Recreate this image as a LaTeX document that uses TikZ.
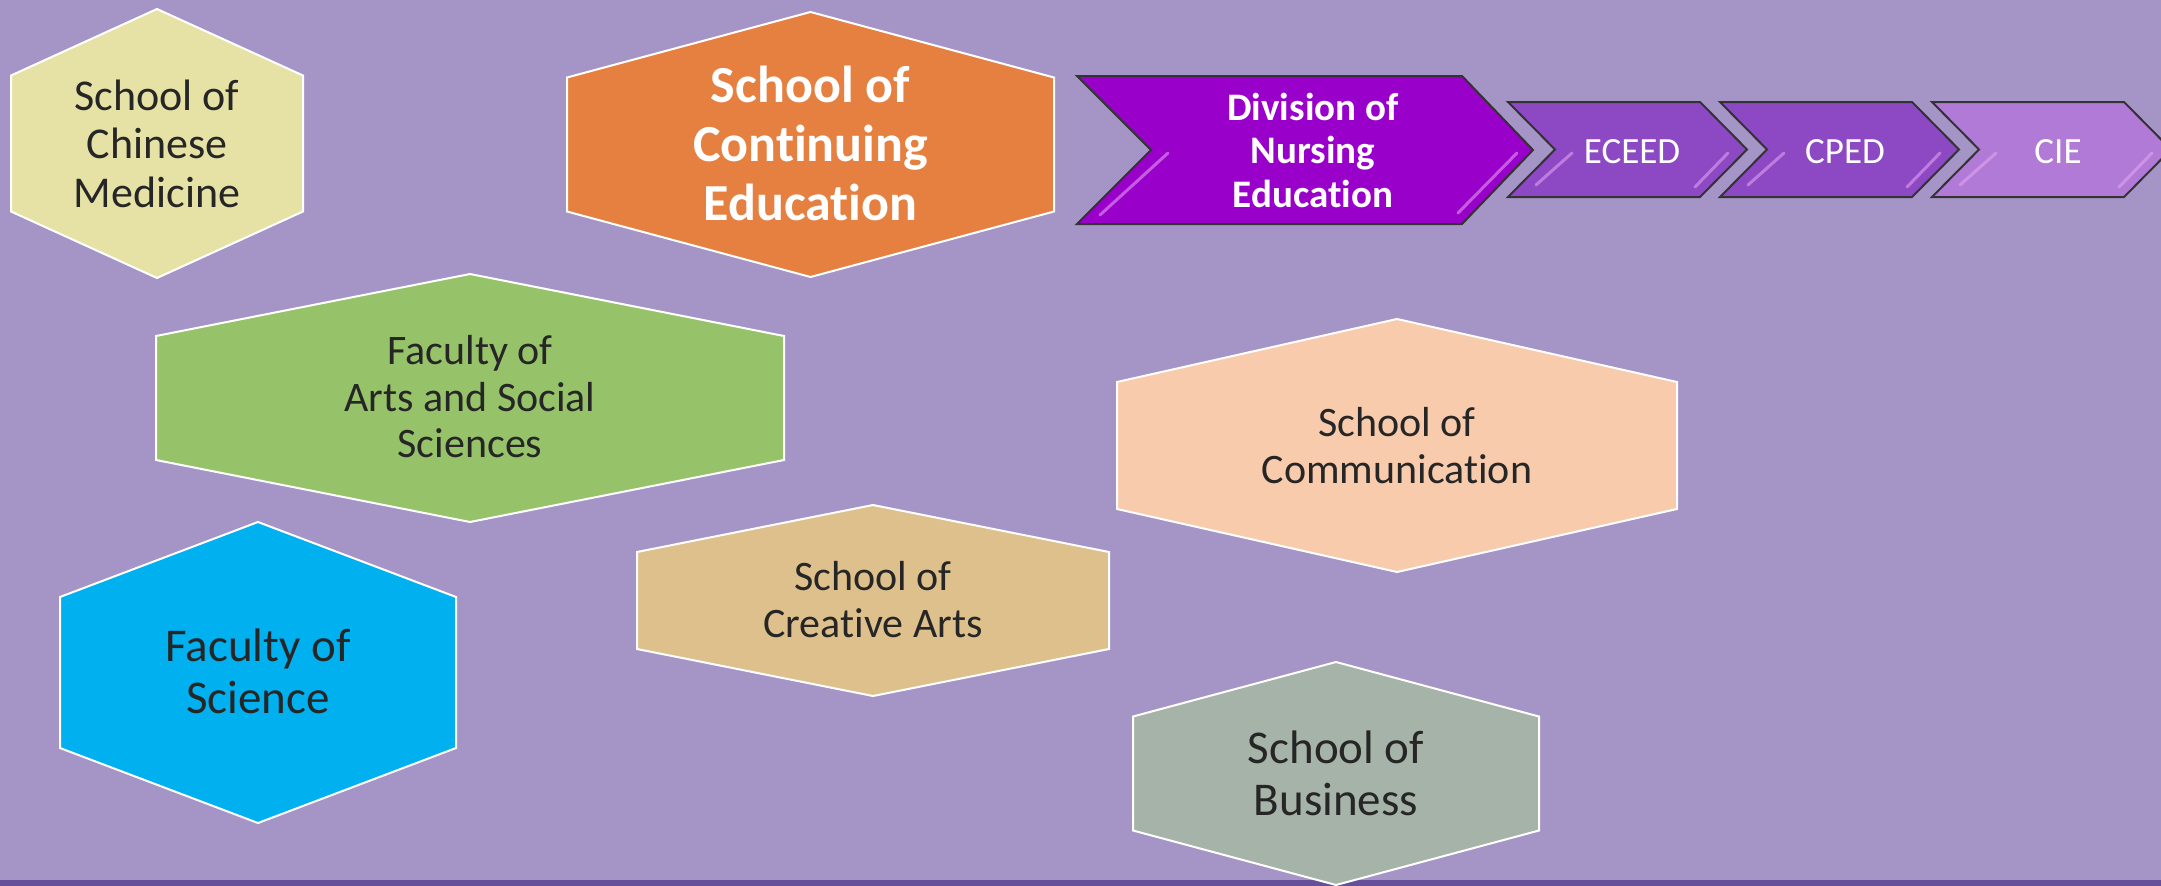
\documentclass[tikz,border=0pt]{standalone}
\usepackage{fontspec}
\setmainfont{Carlito}[Ligatures=NoCommon]
\usetikzlibrary{calc,positioning}

\definecolor{bgpurple}{HTML}{A595C6}
\definecolor{bandpurple}{HTML}{654F9B}
\definecolor{textgray}{HTML}{262626}
\definecolor{hexyellow}{HTML}{E6E2A6}
\definecolor{hexorange}{HTML}{E58041}
\definecolor{hexgreen}{HTML}{96C36A}
\definecolor{hexpeach}{HTML}{F8CBAD}
\definecolor{hexblue}{HTML}{00B0EF}
\definecolor{hextan}{HTML}{DEC08C}
\definecolor{hexsage}{HTML}{A6B3A8}
\definecolor{chevdark}{HTML}{9900CA}
\definecolor{chevmid}{HTML}{8D49C3}
\definecolor{chevlight}{HTML}{B07AD6}
\definecolor{glosspink}{HTML}{E9A6F5}

\tikzset{
    hexshape/.style={draw=white, line width=2pt, line join=miter},
    hextext/.style={text=textgray, align=center, inner sep=0pt},
    chevshape/.style={draw=black!80, line width=2pt, line join=miter},
    chevtext/.style={text=white, align=center, inner sep=0pt},
    gloss/.style={draw=glosspink, line width=3pt, line cap=round, opacity=.55}
}

% Hexagon: centre x, centre y, half width, half height, half side, colour.
\newcommand{\hexa}[6]{%
    \filldraw[hexshape, fill=#6] (#1-#3,#2-#5) -- (#1,#2-#4) -- (#1+#3,#2-#5)
        -- (#1+#3,#2+#5) -- (#1,#2+#4) -- (#1-#3,#2+#5) -- cycle;}

\begin{document}
\begin{tikzpicture}[x=1pt, y=-1pt]
    \useasboundingbox (0,0) rectangle (2161,886);
    \clip (0,0) rectangle (2161,886);

    % Draw background.
    \fill[bgpurple] (0,0) rectangle (2161,886);
    \fill[bandpurple] (0,880) rectangle (2161,886);

    % Draw hexagons.
    \hexa{157}{143.5}{146}{134.5}{68}{hexyellow}
    \hexa{810.5}{144.5}{243.5}{132.5}{67}{hexorange}
    \hexa{470}{398}{314}{124}{62}{hexgreen}
    \hexa{1397}{445.5}{280}{126.5}{63.5}{hexpeach}
    \hexa{258}{672.5}{198}{150.5}{75.5}{hexblue}
    \hexa{873}{600.5}{236}{95.5}{48.5}{hextan}
    \hexa{1336}{773.5}{203}{111.5}{57}{hexsage}

    % Label hexagons.
    \node[hextext, font=\fontsize{44}{48.5}\selectfont] (chinese) at (157,143.5) {School of\\Chinese\\Medicine};
    \node[chevtext, font=\bfseries\fontsize{52}{59}\selectfont] (contedu) at (810.5,143) {School of\\Continuing\\Education};
    \node[hextext, font=\fontsize{42}{46.5}\selectfont] (artsoc) at (470,397) {Faculty of\\Arts and Social\\Sciences};
    \node[hextext, font=\fontsize{42}{47}\selectfont] (comm) at (1397,445.5) {School of\\Communication};
    \node[hextext, font=\fontsize{47}{52}\selectfont] (science) at (258,671) {Faculty of\\Science};
    \node[hextext, font=\fontsize{42}{47}\selectfont] (creative) at (873,600) {School of\\Creative Arts};
    \node[hextext, font=\fontsize{47}{52}\selectfont] (business) at (1336,773) {School of\\Business};

    % Draw chevrons.
    \filldraw[chevshape, fill=chevdark] (1077,76) -- (1462,76) -- (1533,150) -- (1462,224)
        -- (1077,224) -- (1151,150) -- cycle;
    \draw[gloss] (1168,153) -- (1100,215);
    \draw[gloss] (1517,153) -- (1458,213);
    \foreach \x/\col in {1508/chevmid, 1720/chevmid, 1932/chevlight} {
        \filldraw[chevshape, fill=\col] (\x,102) -- ++(192,0) -- ++(47,47.5) -- ++(-47,47.5)
            -- ++(-192,0) -- ++(47,-47.5) -- cycle;
        \draw[gloss] (\x+64,153) -- (\x+28,185);
        \draw[gloss] (\x+220,153) -- (\x+187,187);
    }

    % Label chevrons.
    \node[chevtext, font=\bfseries\fontsize{39}{43.5}\selectfont] (nursing) at (1313,150) {Division of\\Nursing\\Education};
    \node[chevtext, font=\fontsize{37}{44}\selectfont] (eceed) at (1632,151.5) {ECEED};
    \node[chevtext, font=\fontsize{37}{44}\selectfont] (cped) at (1845,151.5) {CPED};
    \node[chevtext, font=\fontsize{37}{44}\selectfont] (cie) at (2058,151.5) {CIE};
\end{tikzpicture}
\end{document}
